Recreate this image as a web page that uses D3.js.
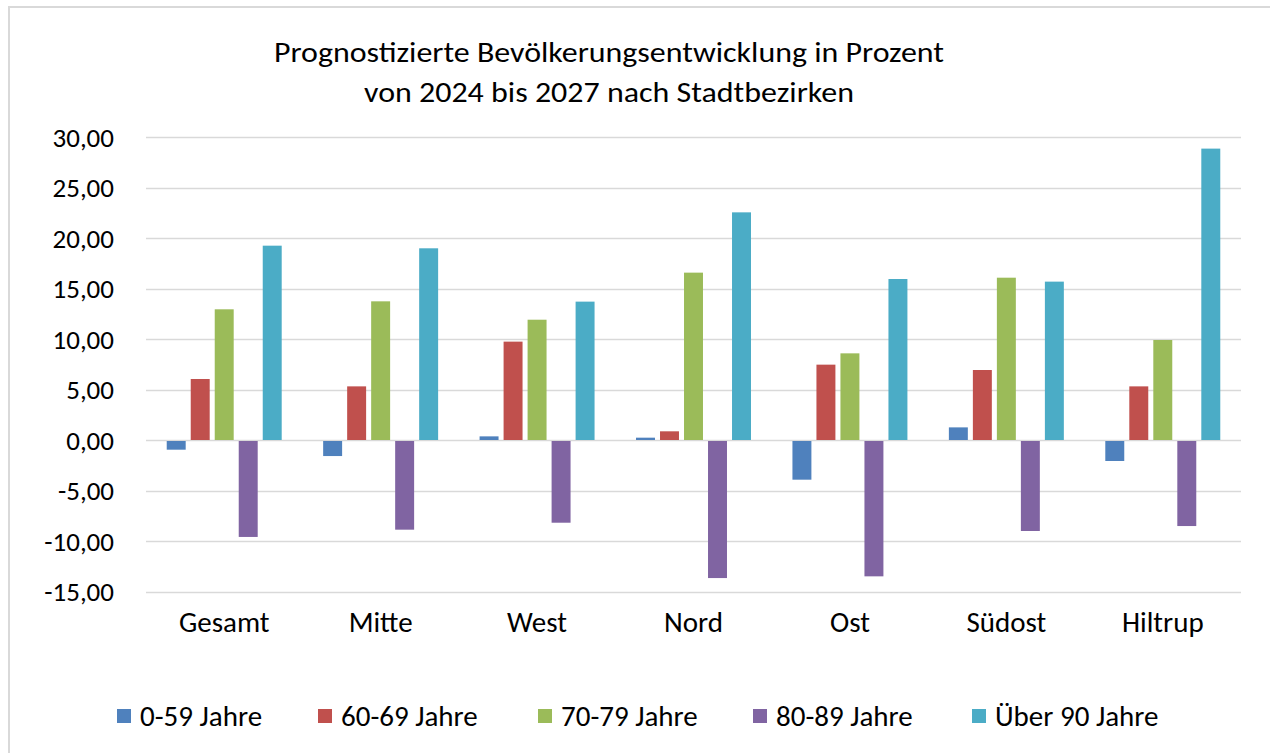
<!DOCTYPE html>
<html><head><meta charset="utf-8">
<script src="https://cdn.jsdelivr.net/npm/d3@7"></script>
<style>
html,body{margin:0;padding:0;background:#fff;}
svg{display:block;}
text{font-family:Carlito, Calibri, Lato, "Open Sans", sans-serif;fill:#000;}
</style></head>
<body>
<svg id="chart" width="1270" height="753"></svg>
<script>
const categories = ["Gesamt","Mitte","West","Nord","Ost","Südost","Hiltrup"];
const seriesNames = ["0-59 Jahre","60-69 Jahre","70-79 Jahre","80-89 Jahre","Über 90 Jahre"];
const colors = ["#4f81bd","#c0504d","#9bbb59","#8064a2","#4bacc6"];
const v0_59  = [-0.86,-1.49, 0.36, 0.23,-3.83, 1.25,-1.98];
const v60_69 = [ 6.04, 5.31, 9.74, 0.86, 7.46, 6.93, 5.31];
const v70_79 = [12.94,13.73,11.91,16.57, 8.58,16.07, 9.90];
const v80_89 = [-9.50,-8.78,-8.09,-13.57,-13.40,-8.91,-8.42];
const v90    = [19.24,18.98,13.70,22.54,15.94,15.68,28.85];
const yTicks = [-15,-10,-5,0,5,10,15,20,25,30];
const titleLines = ["Prognostizierte Bevölkerungsentwicklung in Prozent","von 2024 bis 2027 nach Stadtbezirken"];

const seriesValues = [v0_59,v60_69,v70_79,v80_89,v90];

const svg = d3.select("#chart");
// border
svg.append("rect").attr("x",9).attr("y",7).attr("width",1270).attr("height",760)
  .attr("fill","#fff").attr("stroke","#d9d9d9").attr("stroke-width",2);

const pLeft=146, pRight=1241, pTop=137, pBottom=591.5;
const y = d3.scaleLinear().domain([-15,30]).range([pBottom,pTop]);
const x0 = d3.scaleBand().domain(categories).range([pLeft,pRight]).paddingInner(0.265).paddingOuter(0.1325);
const x1 = d3.scaleBand().domain(seriesNames).range([0,x0.bandwidth()]).paddingInner(0.21).paddingOuter(0);

// gridlines
svg.append("g").selectAll("line").data(yTicks).join("line")
  .attr("x1",pLeft).attr("x2",pRight)
  .attr("y1",d=>Math.round(y(d))+0.5).attr("y2",d=>Math.round(y(d))+0.5)
  .attr("stroke","#d9d9d9").attr("stroke-width",1.5);

// y labels
const fmt = d => d3.format(".2f")(d).replace(".",",").replace("−","-");
svg.append("g").selectAll("text").data(yTicks).join("text")
  .attr("x",114).attr("y",d=>y(d)).attr("dy","0.36em")
  .attr("text-anchor","end").attr("font-size",27).text(fmt);

// bars
const g = svg.append("g");
categories.forEach((c,i)=>{
  seriesNames.forEach((s,j)=>{
    const v = seriesValues[j][i];
    g.append("rect")
      .attr("x",x0(c)+x1(s)).attr("width",x1.bandwidth())
      .attr("y",v>=0?y(v):y(0)+1).attr("height",Math.abs(y(v)-y(0)))
      .attr("fill",colors[j]);
  });
});

// category labels
svg.append("g").selectAll("text").data(categories).join("text")
  .attr("x",d=>x0(d)+x0.bandwidth()/2).attr("y",622).attr("dy","0.36em")
  .attr("text-anchor","middle").attr("font-size",29).text(d=>d);

// title
const titleW = [670,490];
svg.append("g").selectAll("text").data(titleLines).join("text")
  .attr("x",609).attr("y",(d,i)=>52+i*40).attr("dy","0.36em")
  .attr("text-anchor","middle").attr("font-size",28)
  .attr("textLength",(d,i)=>titleW[i]).attr("lengthAdjust","spacingAndGlyphs").text(d=>d);

// legend
const legX = [117,318,538,753,972];
const leg = svg.append("g");
seriesNames.forEach((s,j)=>{
  leg.append("rect").attr("x",legX[j]).attr("y",709).attr("width",14).attr("height",14).attr("fill",colors[j]);
  leg.append("text").attr("x",legX[j]+23).attr("y",716).attr("dy","0.36em").attr("font-size",29).text(s);
});
</script>
</body></html>
